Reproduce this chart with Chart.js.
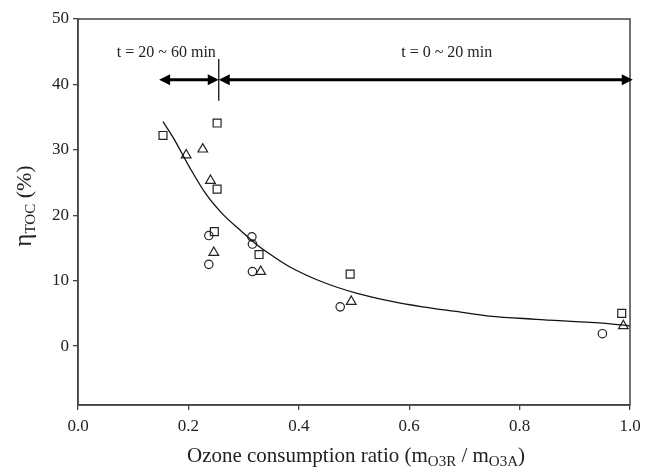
<!DOCTYPE html>
<html>
<head>
<meta charset="utf-8">
<script src="https://cdn.jsdelivr.net/npm/chart.js@4/dist/chart.umd.min.js"></script>
<style>
  body { margin: 0; background: #fff; }
</style>
</head>
<body>
<canvas id="ozone-chart" width="656" height="469"></canvas>
<script>
// values
const squareRatio = [0.154, 0.252, 0.252, 0.247, 0.328, 0.493, 0.985]
const squareToc = [32.2, 34.1, 24.0, 17.5, 14.0, 11.0, 5.0]
const triangleRatio = [0.196, 0.226, 0.240, 0.246, 0.331, 0.495, 0.988]
const triangleToc = [29.2, 30.1, 25.3, 14.3, 11.4, 6.8, 3.1]
const circleRatio = [0.237, 0.237, 0.315, 0.316, 0.316, 0.475, 0.950]
const circleToc = [16.9, 12.5, 16.7, 15.6, 11.4, 6.0, 1.9]
const fitRatio = [0.154, 0.173, 0.203, 0.233, 0.263, 0.293, 0.324, 0.354, 0.384, 0.443, 0.504, 0.564, 0.624, 0.685, 0.745, 0.830, 0.950, 1.0]
const fitToc = [34.3, 31.8, 27.2, 23.1, 20.1, 17.8, 15.5, 13.7, 12.1, 9.8, 8.1, 6.9, 6.0, 5.3, 4.6, 4.1, 3.5, 3.1]

const xTicks = [0, 0.2, 0.4, 0.6, 0.8, 1.0]
const yTicks = [0, 10, 20, 30, 40, 50]

// time-range arrows: [from, to] in ratio units, at height arrowToc
const arrowSpans = [[0.147, 0.255], [0.255, 1.005]]
const arrowToc = 40.7
const dividerRatio = 0.255
const dividerToc = [37.5, 43.9]
const rangeLabels = ["t = 20 ~ 60 min", "t = 0 ~ 20 min"]
const rangeLabelRatio = [0.160, 0.668]
const rangeLabelToc = 44.2

const serif = "'Liberation Serif', 'DejaVu Serif', serif"

function toPoints(xs, ys) {
    return xs.map((x, i) => ({ x: x, y: ys[i] }))
}

function arrowHead(ctx, x, y, dir) {
    ctx.beginPath()
    ctx.moveTo(x, y)
    ctx.lineTo(x - dir * 11, y - 5.5)
    ctx.lineTo(x - dir * 11, y + 5.5)
    ctx.closePath()
    ctx.fill()
}

// text with subscripts: parts are [text, size, drop]
function drawParts(ctx, parts, cx, by) {
    let total = 0
    parts.forEach(p => { ctx.font = p[1] + "px " + serif; total += ctx.measureText(p[0]).width })
    let px = cx - total / 2
    ctx.textAlign = "left"
    parts.forEach(p => {
        ctx.font = p[1] + "px " + serif
        ctx.fillText(p[0], px, by + p[2])
        px += ctx.measureText(p[0]).width
    })
}

var frameAndNotes = {
    id: "frameAndNotes",
    afterDraw(chart) {
        const { ctx, chartArea: { top, bottom, left, right }, scales: { x, y } } = chart
        ctx.save()

        // box around plot
        ctx.strokeStyle = "#444"
        ctx.lineWidth = 1.5
        ctx.strokeRect(left, top, right - left, bottom - top)

        // arrows
        ctx.strokeStyle = "#000"
        ctx.fillStyle = "#000"
        ctx.lineWidth = 3
        const ay = y.getPixelForValue(arrowToc)
        arrowSpans.forEach(span => {
            const x0 = x.getPixelForValue(span[0])
            const x1 = x.getPixelForValue(span[1])
            ctx.beginPath()
            ctx.moveTo(x0 + 8, ay)
            ctx.lineTo(x1 - 8, ay)
            ctx.stroke()
            arrowHead(ctx, x0, ay, -1)
            arrowHead(ctx, x1, ay, 1)
        })
        ctx.lineWidth = 1.2
        const dx = x.getPixelForValue(dividerRatio)
        ctx.beginPath()
        ctx.moveTo(dx, y.getPixelForValue(dividerToc[0]))
        ctx.lineTo(dx, y.getPixelForValue(dividerToc[1]))
        ctx.stroke()

        // range labels
        ctx.font = "16px " + serif
        ctx.textAlign = "center"
        ctx.textBaseline = "alphabetic"
        ctx.fillStyle = "#222"
        rangeLabels.forEach((t, i) => {
            ctx.fillText(t, x.getPixelForValue(rangeLabelRatio[i]), y.getPixelForValue(rangeLabelToc))
        })

        // axis titles
        drawParts(ctx, [
            ["Ozone consumption ratio (m", 21, 0],
            ["O3R", 15, 4],
            [" / m", 21, 0],
            ["O3A", 15, 4],
            [")", 21, 0]
        ], (left + right) / 2 + 2, 462)

        ctx.translate(31, 206)
        ctx.rotate(-Math.PI / 2)
        drawParts(ctx, [["η", 25, 0], ["TOC", 15, 4], [" (%)", 22, 0]], 0, 0)
        ctx.restore()
    }
}

const markerStyle = {
    borderColor: "#222",
    backgroundColor: "rgba(0,0,0,0)",
    borderWidth: 1.2,
    showLine: false
}

new Chart(document.getElementById("ozone-chart").getContext("2d"), {
    type: "scatter",
    data: {
        datasets: [
            {
                type: "line",
                data: toPoints(fitRatio, fitToc),
                borderColor: "#111",
                borderWidth: 1.3,
                pointRadius: 0,
                cubicInterpolationMode: "monotone",
                fill: false
            },
            { ...markerStyle, data: toPoints(squareRatio, squareToc), pointStyle: "rect", pointRadius: 5.6 },
            { ...markerStyle, data: toPoints(triangleRatio, triangleToc), pointStyle: "triangle", pointRadius: 5.6 },
            { ...markerStyle, data: toPoints(circleRatio, circleToc), pointStyle: "circle", pointRadius: 4.2 }
        ]
    },
    options: {
        responsive: false,
        animation: false,
        layout: { padding: { top: 19, right: 26, left: 0, bottom: 0 } },
        plugins: {
            legend: { display: false },
            tooltip: { enabled: false }
        },
        scales: {
            x: {
                type: "linear",
                min: 0,
                max: 1,
                afterBuildTicks: axis => { axis.ticks = xTicks.map(v => ({ value: v })) },
                afterFit: axis => { axis.height = 64 },
                ticks: {
                    callback: v => v.toFixed(1),
                    font: { family: serif, size: 17 },
                    color: "#222",
                    padding: 6,
                    maxRotation: 0
                },
                grid: { drawOnChartArea: false, tickLength: 5, color: "#444", lineWidth: 1.3 },
                border: { color: "#444", width: 1.5 }
            },
            y: {
                type: "linear",
                min: -9,
                max: 50,
                afterBuildTicks: axis => { axis.ticks = yTicks.map(v => ({ value: v })) },
                afterFit: axis => { axis.width = 78 },
                ticks: {
                    font: { family: serif, size: 17 },
                    color: "#222",
                    padding: 4
                },
                grid: { drawOnChartArea: false, tickLength: 5, color: "#444", lineWidth: 1.3 },
                border: { color: "#444", width: 1.5 }
            }
        }
    },
    plugins: [frameAndNotes]
})
</script>
</body>
</html>
